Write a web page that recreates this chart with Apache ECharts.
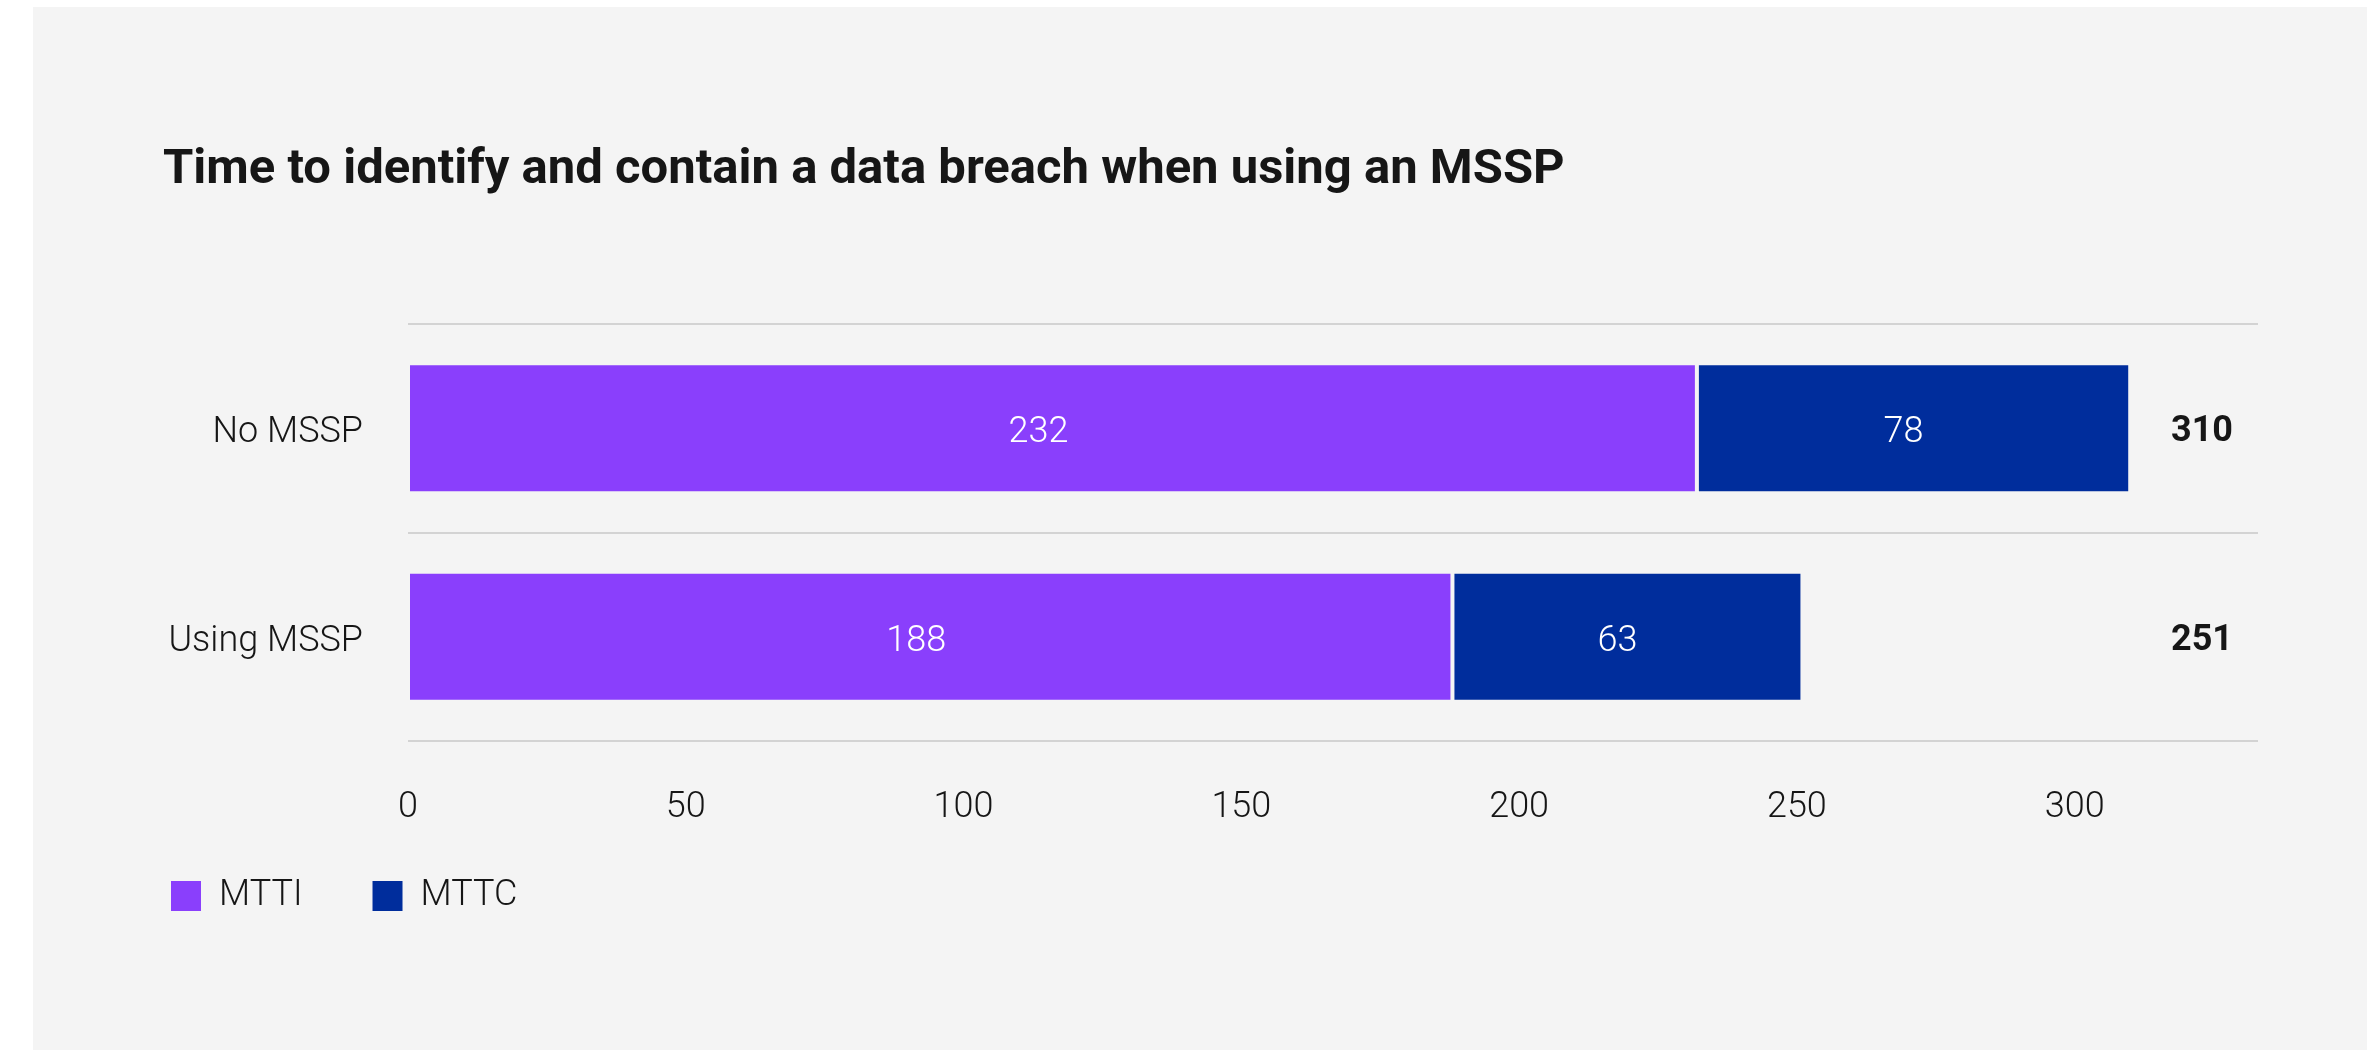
<!DOCTYPE html>
<html lang="en">

<head>
    <meta charset="UTF-8">
    <title>MSSP breach time</title>
    <script src="https://cdn.jsdelivr.net/npm/echarts@6/dist/echarts.min.js"></script>
</head>
<style>
    body {
        margin: 0;
        background: #ffffff;
    }

    .panel {
        position: absolute;
        left: 33px;
        top: 7px;
        width: 2334px;
        height: 1043px;
        background: #f4f4f4;
    }

    #chart {
        position: absolute;
        left: 0;
        top: 0;
        width: 2367px;
        height: 1050px;
    }
</style>

<body>
    <div class="panel"></div>
    <div id="chart"></div>
    <script>
        // data
        var categories = ['No MSSP', 'Using MSSP'];
        var seriesNames = ['MTTI', 'MTTC'];
        var mtti = [232, 188];
        var mttc = [78, 63];
        var totals = categories.map(function (c, i) { return mtti[i] + mttc[i]; });

        var FONT = 'Roboto, "Noto Sans", sans-serif';
        var chart = echarts.init(document.getElementById('chart'));

        var option = {
            backgroundColor: 'transparent',
            animation: false,
            color: ['#8a3ffc', '#002d9c'],
            title: {
                text: 'Time to identify and contain a data breach when using an MSSP',
                left: 158,
                top: 141,
                textStyle: {
                    fontFamily: FONT,
                    fontSize: 49,
                    fontWeight: 'bold',
                    color: '#161616'
                }
            },
            legend: {
                left: 164,
                top: 873,
                icon: 'rect',
                itemWidth: 32,
                itemHeight: 32,
                itemGap: 68,
                data: seriesNames,
                textStyle: {
                    fontFamily: FONT,
                    fontSize: 36,
                    fontWeight: 300,
                    color: '#161616',
                    padding: [0, 0, 0, 12]
                }
            },
            grid: {
                left: 408,
                right: 109,
                top: 324,
                bottom: 309
            },
            xAxis: {
                type: 'value',
                min: 0,
                max: 333,
                interval: 50,
                axisLine: { show: false },
                axisTick: { show: false },
                splitLine: { show: false },
                axisLabel: {
                    showMaxLabel: false,
                    margin: 49,
                    fontFamily: FONT,
                    fontSize: 36,
                    fontWeight: 300,
                    color: '#161616'
                }
            },
            yAxis: [{
                type: 'category',
                inverse: true,
                data: categories,
                axisLine: { show: false },
                axisTick: { show: false },
                splitLine: {
                    show: true,
                    lineStyle: { color: '#c8c8c8', width: 1.5 }
                },
                axisLabel: {
                    margin: 45,
                    formatter: function (v) { return '{a|' + v + '}'; },
                    rich: {
                        a: {
                            padding: [10, 0, 0, 0],
                            fontFamily: FONT,
                            fontSize: 36,
                            fontWeight: 300,
                            color: '#161616'
                        }
                    }
                }
            }, {
                type: 'category',
                inverse: true,
                position: 'right',
                data: totals,
                axisLine: { show: false },
                axisTick: { show: false },
                splitLine: { show: false },
                axisLabel: {
                    margin: -25,
                    align: 'right',
                    formatter: function (v) { return '{b|' + v + '}'; },
                    rich: {
                        b: {
                            padding: [8, 0, 0, 0],
                            fontFamily: FONT,
                            fontSize: 36,
                            fontWeight: 'bold',
                            color: '#161616'
                        }
                    }
                }
            }],
            series: [{
                name: seriesNames[0],
                type: 'bar',
                stack: 'time',
                barWidth: 130,
                data: mtti,
                itemStyle: { borderColor: '#f4f4f4', borderWidth: 2 },
                label: {
                    show: true,
                    position: 'inside',
                    offset: [-14, 5],
                    fontFamily: FONT,
                    fontSize: 36,
                    fontWeight: 300,
                    color: '#ffffff'
                }
            }, {
                name: seriesNames[1],
                type: 'bar',
                stack: 'time',
                barWidth: 130,
                data: mttc,
                itemStyle: { borderColor: '#f4f4f4', borderWidth: 2 },
                label: {
                    show: true,
                    position: 'inside',
                    offset: [-10, 5],
                    fontFamily: FONT,
                    fontSize: 36,
                    fontWeight: 300,
                    color: '#ffffff'
                }
            }]
        };

        chart.setOption(option);
    </script>
</body>

</html>
